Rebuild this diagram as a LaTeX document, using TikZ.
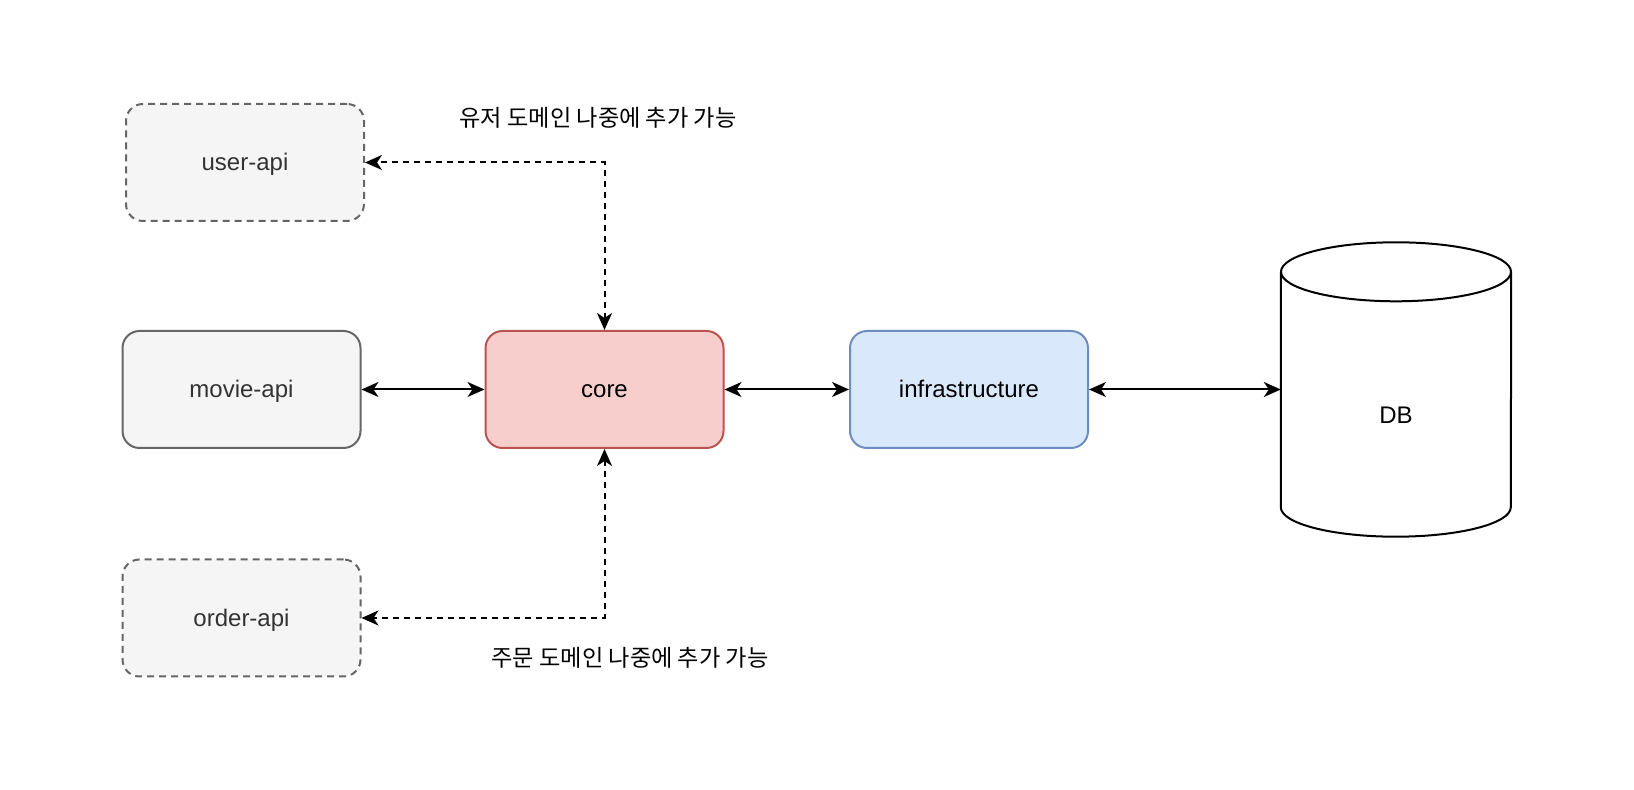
\documentclass[tikz,border=0pt]{standalone}
\usepackage{fontspec}
\setmainfont{Liberation Sans}
\newfontfamily\krfont{Noto Sans CJK KR}
\usetikzlibrary{positioning,arrows.meta}

\definecolor{apifill}{HTML}{F5F5F5}
\definecolor{apiline}{HTML}{666666}
\definecolor{apitext}{HTML}{333333}
\definecolor{corefill}{HTML}{F8CECC}
\definecolor{coreline}{HTML}{B85450}
\definecolor{infrafill}{HTML}{DAE8FC}
\definecolor{infraline}{HTML}{6C8EBF}

\begin{document}
\begin{tikzpicture}[
    x=1pt, y=1pt,
    every node/.style={font=\fontsize{24pt}{28pt}\selectfont},
    box/.style={draw, line width=2pt, rounded corners=17pt, minimum width=238pt, minimum height=117pt,
      text height=22pt, text depth=5pt, align=center},
    apibox/.style={box, draw=apiline, fill=apifill, text=apitext},
    optbox/.style={apibox, dash pattern=on 7pt off 5pt},
    corebox/.style={box, draw=coreline, fill=corefill},
    infrabox/.style={box, draw=infraline, fill=infrafill},
    dbbox/.style={minimum width=230pt, minimum height=294pt, inner sep=0pt},
    dbline/.style={line width=2pt},
    arrow/.style={{Stealth[length=17pt,width=15pt,inset=5pt]}-{Stealth[length=17pt,width=15pt,inset=5pt]}, line width=2pt},
    optarrow/.style={arrow, dash pattern=on 6pt off 5pt},
    note/.style={font=\krfont\fontsize{23.2pt}{28pt}\selectfont}
  ]
    \useasboundingbox (0,0) rectangle (1634,790);
    \node[corebox] (core) at (604.5,400.5) {core};
    \node[apibox, left=123pt of core] (movie) {movie-api};
    \node[infrabox, right=124.5pt of core] (infra) {infrastructure};
    \node[dbbox, right=191.8pt of infra] (db) {};
    \node[optbox, above=108pt of movie, xshift=3.5pt] (user) {user-api};
    \node[optbox, below=109.5pt of movie] (order) {order-api};

    % DB cylinder
    \fill[white] ([yshift=-29.5pt]db.north west) -- ([yshift=29.5pt]db.south west)
      arc[start angle=180, end angle=360, x radius=115pt, y radius=29.5pt]
      -- ([yshift=-29.5pt]db.north east) -- cycle;
    \draw[dbline] ([yshift=-29.5pt]db.north west) -- ([yshift=29.5pt]db.south west)
      arc[start angle=180, end angle=360, x radius=115pt, y radius=29.5pt]
      -- ([yshift=-29.5pt]db.north east);
    \draw[dbline, fill=white] ([yshift=-29.5pt]db.north) ellipse [x radius=115pt, y radius=29.5pt];
    \node (dbtext) at ([yshift=-26pt]db.center) {DB};

    \draw[arrow] (movie) -- (core);
    \draw[arrow] (core) -- (infra);
    \draw[arrow] (infra) -- (db);
    \draw[optarrow] (core.north) |- (user.east);
    \draw[optarrow] (core.south) |- (order.east);

    \node[note] (usernote) at (598,672) {유저 도메인 나중에 추가 가능};
    \node[note] (ordernote) at (630,132) {주문 도메인 나중에 추가 가능};
  \end{tikzpicture}
\end{document}
